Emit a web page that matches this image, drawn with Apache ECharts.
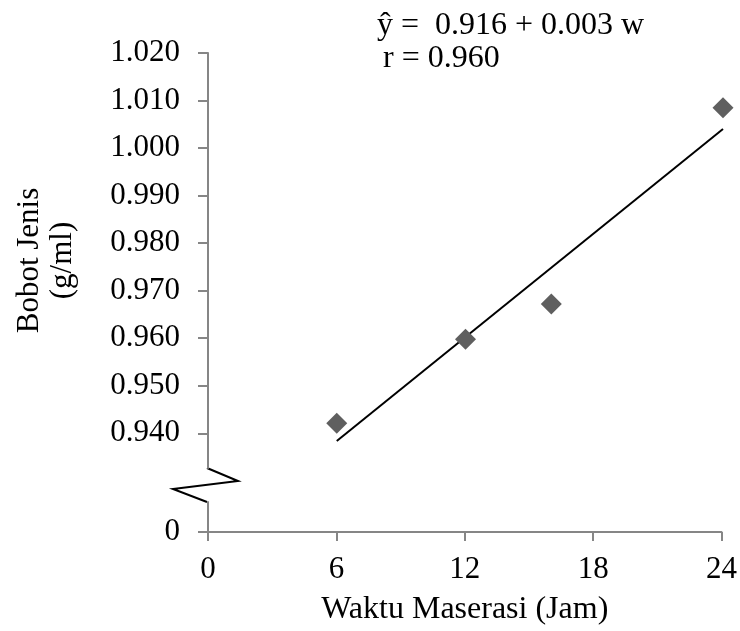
<!DOCTYPE html>
<html>
<head>
<meta charset="utf-8">
<script src="https://cdn.jsdelivr.net/npm/echarts@6/dist/echarts.min.js"></script>
<style>
html, body { margin: 0; padding: 0; background: #fff; }
#chart { width: 740px; height: 631px; }
</style>
</head>
<body>
<div id="chart"></div>
<script>
// data
var waktu = [6, 12, 16, 24];
var bobotJenis = [0.9421, 0.9598, 0.9672, 1.0085];
// regression line end points
var trendWaktu = [6, 24];
var trendBobot = [0.9384, 1.0040];
var xTicks = [0, 6, 12, 18, 24];
var yTicksTop = [0.94, 0.95, 0.96, 0.97, 0.98, 0.99, 1.00, 1.01, 1.02];
var yTicksBottom = [0];

var FONT = 'Liberation Serif';
var AXIS = '#868686';

var chart = echarts.init(document.getElementById('chart'));

var points = waktu.map(function (w, i) { return [w, bobotJenis[i]]; });
var trend = trendWaktu.map(function (w, i) { return [w, trendBobot[i]]; });

var option = {
    animation: false,
    grid: [
        { left: 208, right: 17, top: 53, height: 415 },   // upper part (broken axis)
        { left: 208, right: 17, top: 502, height: 30 }    // lower part with 0
    ],
    xAxis: [
        { gridIndex: 0, type: 'value', min: 0, max: 24, show: false },
        {
            gridIndex: 1, type: 'value', min: 0, max: 24, interval: 6,
            axisLine: { lineStyle: { color: AXIS, width: 2 } },
            axisTick: { show: true, length: 9, lineStyle: { color: AXIS, width: 2 } },
            splitLine: { show: false },
            axisLabel: {
                margin: 22, color: '#000', fontFamily: FONT, fontSize: 31,
                customValues: xTicks
            },
            name: 'Waktu Maserasi (Jam)',
            nameLocation: 'middle',
            nameGap: 62,
            nameTextStyle: { color: '#000', fontFamily: FONT, fontSize: 32 }
        }
    ],
    yAxis: [
        {
            gridIndex: 0, type: 'value', min: 0.9327, max: 1.02,
            axisLine: { show: true, lineStyle: { color: AXIS, width: 2 } },
            axisTick: { show: true, length: 10, customValues: yTicksTop, lineStyle: { color: AXIS, width: 2 } },
            splitLine: { show: false },
            axisLabel: {
                margin: 28, color: '#000', fontFamily: FONT, fontSize: 31,
                customValues: yTicksTop,
                formatter: function (v) { return v.toFixed(3); }
            },
            name: 'Bobot Jenis\n(g/ml)',
            nameLocation: 'middle',
            nameRotate: 90,
            nameGap: 129,
            nameTextStyle: { color: '#000', fontFamily: FONT, fontSize: 31, lineHeight: 33 }
        },
        {
            gridIndex: 1, type: 'value', min: 0, max: 1,
            axisLine: { show: true, lineStyle: { color: AXIS, width: 2 } },
            axisTick: { show: true, length: 10, customValues: yTicksBottom, lineStyle: { color: AXIS, width: 2 } },
            splitLine: { show: false },
            axisLabel: {
                margin: 28, color: '#000', fontFamily: FONT, fontSize: 31,
                customValues: yTicksBottom,
                formatter: function (v) { return String(v); }
            }
        }
    ],
    series: [
        {
            name: 'Trend',
            type: 'line',
            xAxisIndex: 0, yAxisIndex: 0,
            data: trend,
            symbol: 'none',
            lineStyle: { color: '#000', width: 2 },
            z: 2
        },
        {
            name: 'Bobot Jenis',
            type: 'scatter',
            xAxisIndex: 0, yAxisIndex: 0,
            data: points,
            symbol: 'diamond',
            symbolSize: [21, 21],
            itemStyle: { color: '#5f5f5f', opacity: 1 },
            z: 3
        }
    ],
    graphic: [
        {   // axis break mark
            type: 'polyline',
            shape: { points: [[207, 468], [238, 481], [173, 489], [207, 502]] },
            style: { stroke: '#000', lineWidth: 2, fill: null }
        },
        {
            type: 'text', left: 377, top: 10,
            style: { text: 'ŷ =  0.916 + 0.003 w', font: '32px "Liberation Serif"', fill: '#000' }
        },
        {
            type: 'text', left: 383, top: 43,
            style: { text: 'r = 0.960', font: '32px "Liberation Serif"', fill: '#000' }
        }
    ]
};

chart.setOption(option);
</script>
</body>
</html>
